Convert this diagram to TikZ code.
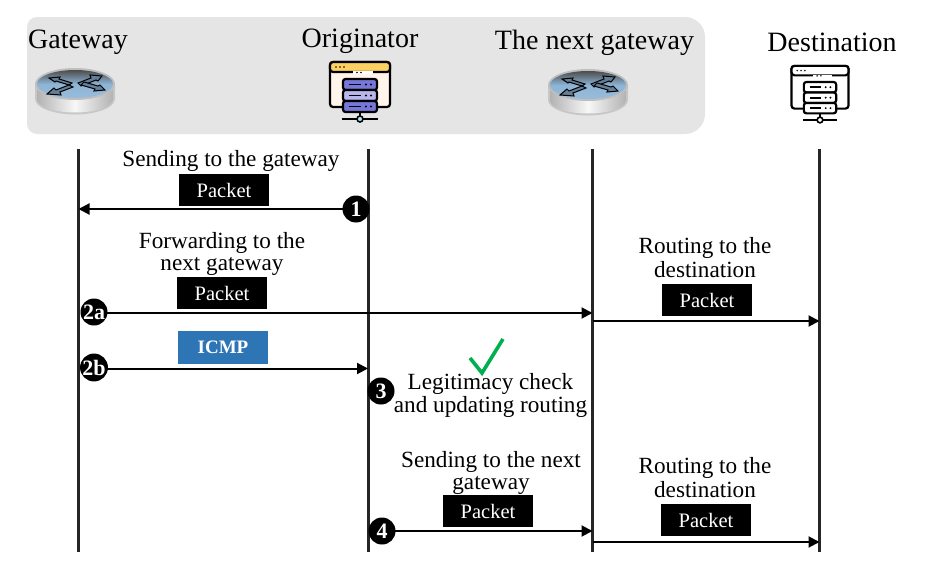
\documentclass[tikz,border=0pt]{standalone}
\usepackage{fontspec}
\setmainfont{Liberation Serif}
\usetikzlibrary{arrows.meta,shadings}
\definecolor{panel}{HTML}{E5E5E5}
\definecolor{icmpblue}{HTML}{2E75B6}
\definecolor{okgreen}{HTML}{00B050}
\definecolor{lifegrey}{HTML}{262626}
\definecolor{rblue}{HTML}{8DB4D6}
\tikzset{
  head/.style={font=\fontsize{28}{30}\selectfont,inner sep=0pt,anchor=center},
  lbl/.style={font=\fontsize{23.2}{#1}\selectfont,inner sep=0pt,align=center,anchor=center},
  lbl/.default=22,
  pkt/.style={fill=black,text=white,minimum width=90pt,minimum height=32pt,inner sep=0pt,font=\fontsize{20.5}{22}\selectfont},
  icmp/.style={fill=icmpblue,text=white,minimum width=90pt,minimum height=33pt,inner sep=0pt,font=\bfseries\fontsize{19}{22}\selectfont},
  badge/.style={circle,fill=black,text=white,minimum size=27pt,inner sep=0pt,font=\bfseries\fontsize{22}{22}\selectfont},
  life/.style={draw=lifegrey,line width=2.2pt},
  msg/.style={draw=black,line width=2pt,-{Triangle[length=11pt,width=11pt]}},
  rarrow/.style={draw=black,line width=1pt,fill=rblue!70!black},
  pics/router/.style={code={
    \fill[black!22] (-40,0) -- (-40,15) .. controls (-40,24) and (-20,30.5) .. (0,30.5) .. controls (20,30.5) and (40,24) .. (40,15) -- (40,0) -- cycle;
    \shade[left color=black!30,right color=black!30,middle color=white!97!black]
      (-38,0) -- (-38,15) .. controls (-38,23) and (-20,28.5) .. (0,28.5) .. controls (20,28.5) and (38,23) .. (38,15) -- (38,0) -- cycle;
    \fill[black!25] (0,0) ellipse [x radius=40,y radius=16];
    \shade[top color=black!70,bottom color=rblue!90!white,middle color=rblue] (0,0) ellipse [x radius=38,y radius=14];
    \path[rarrow] (-3,-1) -- (-16,-5) -- (-15,-7) -- (-26,-6) -- (-20,-2) -- (-19,-3) -- (-6,1) -- cycle;
    \path[rarrow] (3,-1) -- (16,-6) -- (15,-9) -- (27,-8) -- (23,-3) -- (21,-4) -- (6,2) -- cycle;
    \path[rarrow] (-6,1) -- (-19,6) -- (-21,4) -- (-28,10) -- (-14,11) -- (-15,8) -- (-2,3) -- cycle;
    \path[rarrow] (6,1) -- (20,5) -- (19,7) -- (30,6) -- (25,1) -- (23,2) -- (9,-2) -- cycle;
  }},
  pics/servericon/.style n args={5}{code={
    \def\ww{30}
    \path[draw=black,line width=2.2pt,fill=#1,rounded corners=3pt] (-\ww,-57) rectangle (\ww,-12);
    \path[draw=black,line width=2.2pt,fill=#2,rounded corners=3pt] (-\ww,-57) rectangle (\ww,-47);
    \fill[white] (-7,-47.8) rectangle (13,-45);
    \foreach \xx in {-24,-20,-16} \fill[black] (\xx,-52) circle (.9);
    \foreach \xx in {-3,1} \fill[black] (\xx,-46.5) circle (.9);
    \draw[black,line width=2.2pt] (0,-7) -- (0,-2);
    \draw[black,line width=2.2pt] (-18,0) -- (18,0);
    \path[draw=black,line width=1.6pt,fill=#5] (0,0) circle (3);
    \foreach \yy/\cc in {-40/#3,-29/#4,-18/#3}{
      \path[draw=black,line width=2.2pt,fill=\cc,rounded corners=2.5pt] (-17,\yy) rectangle (17,\yy+11);
      \draw[black,line width=1.8pt] (-11,\yy+5.5) -- (1,\yy+5.5);
      \fill[black] (6,\yy+5.5) circle (1.1) (11,\yy+5.5) circle (1.1);
    }
  }},
}
\begin{document}
\begin{tikzpicture}[x=1pt,y=-1pt]
\useasboundingbox (0,0) rectangle (930,562);
% panel
\fill[panel,rounded corners=10pt] (100,17) -- (27,17) -- (27,134) -- (100,134) [rounded corners=20pt] -- (705,134) -- (705,17) -- cycle;
% headers
\node[head] (hgw) at (78,42) {Gateway};
\node[head] (hor) at (360,41) {Originator};
\node[head] (hng) at (594.5,43) {The next gateway};
\node[head] (hde) at (832,42) {Destination};
% icons
\pic (rgw) at (75,84) {router};
\pic (rng) at (588,85) {router};
\pic (sor) at (360,119) {servericon={white!92!orange}{yellow!45!orange!60!white}{blue!45!white!85!black}{blue!22!white!92!black}{cyan!30}};
\pic[scale=.95] (sde) at (820,120) {servericon={white}{white}{white}{white}{white}};
% lifelines
\coordinate (gwt) at (78.5,149); \coordinate (gwb) at (78.5,552);
\coordinate (ort) at (368.5,149); \coordinate (orb) at (368.5,552);
\coordinate (ngt) at (592.5,149); \coordinate (ngb) at (592.5,552);
\coordinate (det) at (819.5,149); \coordinate (deb) at (819.5,552);
\draw[life] (gwt) -- (gwb);
\draw[life] (ort) -- (orb);
\draw[life] (ngt) -- (ngb);
\draw[life] (det) -- (deb);
% arrow end points and badges
\coordinate (e1) at (78.5,209);
\coordinate (e2a) at (592.5,313);
\coordinate (e2b) at (368,368.5);
\coordinate (s5) at (592.5,321); \coordinate (e5) at (819.5,321);
\coordinate (e4) at (592.5,531);
\coordinate (s6) at (592.5,542); \coordinate (e6) at (819.5,542);
\path (356,209) coordinate (c1) (94,312) coordinate (c2a) (94,367.5) coordinate (c2b) (382,531) coordinate (c4);
\draw[msg] (c1) -- (e1);
\draw[msg] (c2a |- e2a) -- (e2a);
\draw[msg] (c2b |- e2b) -- (e2b);
\draw[msg] (c4) -- (e4);
\draw[msg] (s5) -- (e5);
\draw[msg] (s6) -- (e6);
\node[badge] (b1) at (c1) {1};
\node[badge] (b2a) at (c2a) {2a};
\node[badge] (b2b) at (c2b) {2b};
\node[badge] (b3) at (381,391) {3};
\node[badge] (b4) at (c4) {4};
% labels
\node[lbl] (l1) at (231,161) {Sending to the gateway};
\node[pkt] (p1) at (224,190) {\raisebox{-1pt}{Packet}};
\node[lbl] (l2) at (222,254) {Forwarding to the\\next gateway};
\node[pkt] (p2) at (222,293) {\raisebox{-1pt}{Packet}};
\node[icmp] (ic) at (223,347.5) {ICMP};
\node[lbl=24] (l3) at (705,258) {Routing to the\\destination};
\node[pkt] (p3) at (707,300) {\raisebox{-1pt}{Packet}};
\node[lbl=21] (l4) at (490.5,395.5) {Legitimacy check\\and updating routing};
\node[lbl] (l5) at (491,473) {Sending to the next\\gateway};
\node[pkt] (p5) at (488,511) {\raisebox{-1pt}{Packet}};
\node[lbl=24] (l6) at (705,478) {Routing to the\\destination};
\node[pkt] (p6) at (706,520) {\raisebox{-1pt}{Packet}};
% check mark
\draw[okgreen,line width=3.6pt,line join=miter] (470,358) -- (482,373) -- (503,339);
\end{tikzpicture}
\end{document}
